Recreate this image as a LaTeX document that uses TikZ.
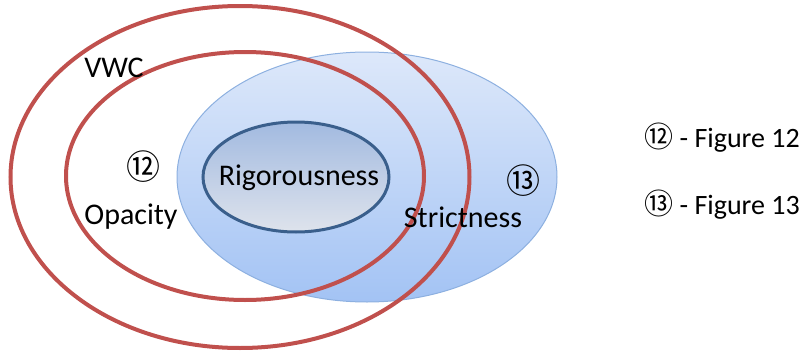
\documentclass[tikz,border=0pt]{standalone}
\usepackage{fontspec}
\setmainfont{Carlito}
\newfontfamily\cnfont{Noto Sans CJK JP}
\usetikzlibrary{shapes.geometric}
\definecolor{vred}{HTML}{C0504D}
\definecolor{bluetop}{HTML}{DDE8FA}
\definecolor{bluebot}{HTML}{A3C3F4}
\definecolor{blueedge}{HTML}{8DB0E0}
\definecolor{rigtop}{HTML}{A2BAE0}
\definecolor{rigbot}{HTML}{DEE3EC}
\definecolor{rigedge}{HTML}{3A5F8C}
\tikzset{
  redring/.style={ellipse, draw=vred, line width=4pt, inner sep=0pt},
  lbl/.style={font=\fontsize{30}{35}\selectfont, inner sep=0pt, text=black},
  cn/.style={font=\cnfont\fontsize{34}{40}\selectfont, inner sep=0pt, text=black},
  leg/.style={anchor=east, inner sep=0pt, text=black},
}
\begin{document}
\begin{tikzpicture}[x=1pt,y=-1pt]
\useasboundingbox (0,0) rectangle (804,351);
\node[ellipse, draw=blueedge, line width=1pt, top color=bluetop, bottom color=bluebot,
      minimum width=380pt, minimum height=250pt, inner sep=0pt] (strict) at (367,177) {};
\node[ellipse, draw=rigedge, line width=3pt, top color=rigtop, bottom color=rigbot,
      minimum width=186pt, minimum height=110pt, inner sep=0pt] (rig) at (296,177) {};
\node[redring, minimum width=459pt, minimum height=342pt] (vwc) at (240,177) {};
\node[redring, minimum width=358pt, minimum height=248pt] (opa) at (245,176) {};
\node[lbl] (tvwc) at (114,68) {VWC};
\node[lbl] (trig) at (299,178) {Rigorousness};
\node[lbl] (topa) at (131,217) {Opacity};
\node[lbl] (tstr) at (463,217) {Strictness};
\node[cn] (c12) at (143,167) {⑫};
\node[cn] (c13) at (523,181) {⑬};
\node[leg] (leg12) at (800,138) {{\cnfont\fontsize{29}{34}\selectfont ⑫}{\fontsize{28}{33}\selectfont\ - Figure 12}};
\node[leg] (leg13) at (800,205) {{\cnfont\fontsize{29}{34}\selectfont ⑬}{\fontsize{28}{33}\selectfont\ - Figure 13}};
\end{tikzpicture}
\end{document}
